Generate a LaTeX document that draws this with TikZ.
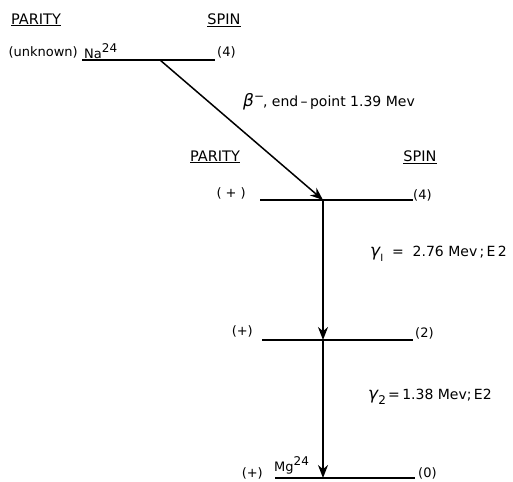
\documentclass[tikz,border=0pt]{standalone}
\usepackage{fontspec}
\setmainfont{DejaVu Sans}
\usetikzlibrary{arrows.meta}
\newcommand{\sgam}{{\fontsize{17}{17}\selectfont\itshape γ}}
\newcommand{\sbet}{{\fontsize{17}{17}\selectfont\itshape β}}
\newcommand{\supr}[1]{\raisebox{6pt}{\fontsize{12}{12}\selectfont #1}}
\newcommand{\subr}[1]{\raisebox{-5pt}{\fontsize{12}{12}\selectfont #1}}
\begin{document}
\begin{tikzpicture}[x=1pt,y=-1pt,
  lvl/.style={line width=1.5pt},
  trans/.style={line width=1.5pt,-{Stealth[length=13pt,width=10pt]}},
  lab/.style={inner sep=0pt,font=\fontsize{13}{15}\selectfont},
  glab/.style={inner sep=0pt,font=\fontsize{14}{16}\selectfont},
  head/.style={inner sep=0pt,font=\fontsize{14.5}{17}\selectfont}]
\useasboundingbox (0,0) rectangle (513,481);
% Na level
\coordinate (naL) at (82,60); \coordinate (naR) at (215,60); \coordinate (naS) at (160,60);
\draw[lvl] (naL) -- (naR);
% level 1
\coordinate (aL) at (260,200); \coordinate (aR) at (413,200); \coordinate (aC) at (323,200);
\draw[lvl] (aL) -- (aR);
% level 2
\coordinate (bL) at (262,340); \coordinate (bR) at (413,340); \coordinate (bC) at (323,340);
\draw[lvl] (bL) -- (bR);
% ground
\coordinate (cL) at (275,478); \coordinate (cR) at (415,478); \coordinate (cC) at (323,478);
\draw[lvl] (cL) -- (cR);
% transitions
\draw[trans] (naS) -- (aC);
\draw[trans] (aC) -- (bC);
\draw[trans] (bC) -- (cC);
% headings
\node[head] (p1) at (36,20) {\underline{PARITY}};
\node[head] (s1) at (224,20) {\underline{SPIN}};
\node[head] (p2) at (215,157) {\underline{PARITY}};
\node[head] (s2) at (420,157) {\underline{SPIN}};
% Na labels
\node[lab,anchor=east] (unk) at (78,52) {(unknown)};
\node[lab,anchor=west] (na) at (84,51) {Na\supr{24}};
\node[lab,anchor=west] (sp0) at (217,52) {(4)};
% beta label
\node[glab,anchor=west] (beta) at (243,102) {\sbet\raisebox{6pt}{\fontsize{12}{12}\selectfont −}\hspace{-1pt}, {\fontsize{14}{15}\selectfont end\,–\,point 1.39 Mev}};
% level 1 labels
\node[lab,anchor=east] (pa) at (246,193) {( + )};
\node[lab,anchor=west] (sa) at (413,195) {(4)};
% gamma1
\node[glab,anchor=west] (g1) at (370,254) {\sgam\subr{\fontsize{10}{10}\selectfont I}\ \ =\ \ 2.76 Mev\,;\,E\,2};
% level 2 labels
\node[lab,anchor=east] (pb) at (253,331) {(+)};
\node[lab,anchor=west] (sb) at (415,333) {(2)};
% gamma2
\node[glab,anchor=west] (g2) at (368,397) {\sgam\subr{2}\,=\,1.38 Mev;\,E2};
% ground labels
\node[lab,anchor=east] (pc) at (263,473) {(+)};
\node[lab,anchor=west] (mg) at (274,465) {Mg\supr{24}};
\node[lab,anchor=west] (sc) at (418,473) {(0)};
\end{tikzpicture}
\end{document}
